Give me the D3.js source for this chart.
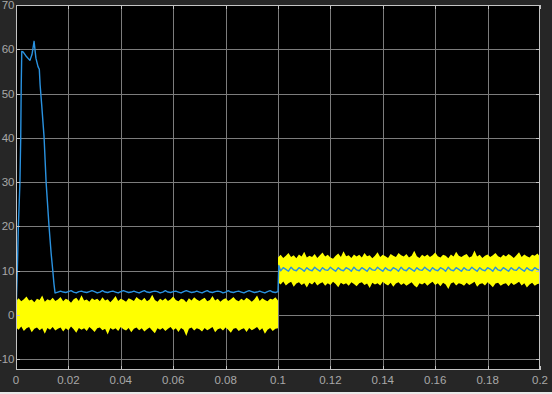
<!DOCTYPE html>
<html>
<head>
<meta charset="utf-8">
<script src="https://cdn.jsdelivr.net/npm/d3@7"></script>
<style>
  html, body { margin: 0; padding: 0; background: #262626; }
  svg { display: block; }
  .tick-label { font-family: "Liberation Sans", Arial, sans-serif; font-size: 11.5px; fill: #a8a8a8; }
</style>
</head>
<body>
<div id="chart"></div>
<script>
// Tick labels
const xTicks = [0, 0.02, 0.04, 0.06, 0.08, 0.1, 0.12, 0.14, 0.16, 0.18, 0.2];
const yTicks = [-10, 0, 10, 20, 30, 40, 50, 60, 70];

// Yellow signal: noisy band, envelope sampled every 1 ms
const noiseStep = 0.001;
const noiseUpper1 = [
  3.2, 3.8, 3.1, 3.6, 4.2, 3.3, 3.5, 2.9, 3.7, 3.4,
  4.4, 3.0, 3.6, 3.3, 3.9, 3.2, 3.5, 4.1, 3.1, 3.7,
  3.4, 2.8, 3.6, 3.9, 3.2, 4.5, 3.3, 3.5, 3.0, 3.8,
  3.4, 3.7, 3.1, 4.0, 3.3, 3.6, 2.9, 3.5, 4.3, 3.2,
  3.7, 3.4, 3.0, 3.8, 3.5, 3.2, 4.1, 3.6, 3.3, 3.9,
  3.1, 3.5, 4.6, 3.4, 3.0, 3.7, 3.3, 3.8, 3.2, 3.6,
  4.2, 3.4, 3.1, 3.7, 3.5, 2.9, 3.8, 3.3, 4.0, 3.5,
  3.2, 3.6, 3.9, 3.1, 3.4, 4.3, 3.3, 3.7, 3.0, 3.5,
  3.8, 3.2, 3.6, 4.1, 3.4, 3.1, 3.7, 3.3, 3.9, 3.5,
  3.0, 3.6, 4.4, 3.2, 3.8, 3.4, 3.1, 3.7, 3.5, 4.0, 3.3
];
const noiseLower1 = [
  -2.8, -3.3, -2.6, -3.6, -3.0, -2.7, -3.9, -3.1, -2.8, -3.4,
  -3.0, -4.2, -2.9, -3.3, -2.7, -3.5, -3.1, -2.8, -3.7, -3.0,
  -3.4, -2.6, -3.2, -4.0, -2.9, -3.3, -3.0, -3.6, -2.7, -3.2,
  -3.8, -3.0, -2.8, -3.4, -3.1, -4.4, -2.9, -3.3, -3.0, -3.6,
  -2.7, -3.2, -3.5, -2.9, -3.9, -3.1, -2.8, -3.4, -3.0, -3.7,
  -3.2, -2.8, -3.5, -4.1, -3.0, -3.3, -2.9, -3.6, -3.1, -2.7,
  -3.4, -3.0, -3.8, -2.9, -3.3, -4.7, -3.1, -2.8, -3.5, -3.0,
  -3.2, -3.7, -2.9, -3.4, -3.1, -2.7, -3.9, -3.2, -3.0, -3.5,
  -2.8, -3.3, -4.0, -3.1, -2.9, -3.6, -3.2, -3.0, -3.8, -2.9,
  -3.4, -3.1, -2.7, -3.5, -3.0, -4.2, -3.3, -2.9, -3.6, -3.1, -3.0
];
const noiseUpper2 = [
  13.0, 13.6, 12.9, 13.4, 14.0, 13.1, 13.5, 12.8, 13.7, 13.2,
  14.3, 13.0, 13.4, 13.1, 13.8, 12.9, 13.5, 14.1, 13.2, 13.6,
  13.0, 12.7, 13.4, 13.9, 13.1, 14.4, 13.3, 13.5, 12.9, 13.7,
  13.2, 13.6, 13.0, 14.0, 13.3, 13.5, 12.8, 13.4, 14.2, 13.1,
  13.6, 13.3, 12.9, 13.8, 13.4, 13.1, 14.0, 13.5, 13.2, 13.8,
  13.0, 13.4, 14.5, 13.3, 12.9, 13.6, 13.2, 13.7, 13.1, 13.5,
  14.1, 13.3, 13.0, 13.6, 13.4, 12.8, 13.7, 13.2, 14.3, 13.4,
  13.1, 13.5, 13.8, 13.0, 13.3, 14.6, 13.2, 13.6, 12.9, 13.4,
  13.7, 13.1, 13.5, 14.0, 13.3, 13.0, 13.6, 13.2, 13.8, 13.4,
  12.9, 13.5, 14.2, 13.1, 13.7, 13.3, 13.0, 13.6, 13.4, 13.9, 13.2
];
const noiseLower2 = [
  7.4, 6.9, 7.6, 6.7, 7.2, 7.5, 6.4, 7.1, 7.4, 6.8,
  7.2, 6.2, 7.3, 6.9, 7.5, 6.7, 7.1, 7.4, 6.6, 7.2,
  6.8, 7.5, 7.0, 6.3, 7.3, 6.9, 7.2, 6.6, 7.4, 7.0,
  6.5, 7.2, 7.4, 6.8, 7.1, 6.1, 7.3, 6.9, 7.2, 6.7,
  7.5, 7.0, 6.7, 7.3, 6.4, 7.1, 7.4, 6.8, 7.2, 6.6,
  7.0, 7.4, 6.7, 6.2, 7.2, 6.9, 7.3, 6.6, 7.1, 7.5,
  6.8, 7.2, 6.5, 7.3, 6.9, 5.9, 7.1, 7.4, 6.7, 7.2,
  7.0, 6.6, 7.3, 6.8, 7.1, 7.5, 6.4, 7.0, 7.2, 6.7,
  7.4, 6.9, 6.3, 7.1, 7.3, 6.6, 7.0, 7.2, 6.5, 7.3,
  6.8, 7.1, 7.5, 6.7, 7.2, 6.2, 6.9, 7.3, 6.6, 7.0, 7.1
];

// Blue signal: start-up transient
const startTime = [0, 0.0005, 0.0009, 0.0015, 0.0018, 0.002, 0.0022, 0.0027, 0.0038,
  0.0053, 0.0061, 0.0069, 0.0076, 0.0084, 0.0089, 0.0092, 0.0098, 0.0107, 0.0115,
  0.0126, 0.0134, 0.014, 0.0145, 0.0149];
const startValue = [0, 10, 20, 30, 40, 52, 59.5, 59.4, 58.5,
  57.5, 58.8, 61.8, 58, 56.1, 55.5, 52, 47.5, 40.3, 29.9,
  20.1, 14, 10.3, 7, 5.0];

// Blue signal: first plateau, 1 ms samples from 0.015 s
const plateau1Start = 0.015;
const plateau1 = [
  5.0, 5.2, 5.4, 5.2, 5.1, 5.3, 5.5, 5.2, 5.0, 5.3, 5.4, 5.2, 5.1, 5.3, 5.5, 5.3,
  5.0, 5.2, 5.5, 5.2, 5.1, 5.3, 5.4, 5.2, 5.0, 5.3, 5.5, 5.3, 5.1, 5.2, 5.4, 5.2,
  5.0, 5.3, 5.5, 5.2, 5.1, 5.3, 5.4, 5.3, 5.0, 5.2, 5.5, 5.2, 5.1, 5.3, 5.4, 5.2,
  5.0, 5.3, 5.5, 5.3, 5.1, 5.2, 5.4, 5.2, 5.0, 5.3, 5.5, 5.2, 5.1, 5.3, 5.4, 5.3,
  5.0, 5.2, 5.5, 5.2, 5.1, 5.3, 5.4, 5.2, 5.0, 5.3, 5.5, 5.3, 5.1, 5.2, 5.4, 5.2,
  5.0, 5.3, 5.5, 5.2, 5.1, 5.3
];

// Blue signal: step at 0.1 s
const stepTime = [0.1003];
const stepValue = [11.2];

// Blue signal: second plateau, 1 ms samples from 0.101 s
const plateau2Start = 0.101;
const plateau2 = [
  10.0, 10.7, 10.3, 9.9, 10.8, 10.2, 10.0, 10.7, 10.4, 9.9, 10.7, 10.2,
  10.0, 10.8, 10.3, 9.9, 10.7, 10.2, 10.1, 10.8, 10.3, 9.9, 10.7, 10.2,
  10.0, 10.7, 10.4, 9.9, 10.8, 10.2, 10.0, 10.7, 10.3, 9.9, 10.7, 10.2,
  10.1, 10.8, 10.3, 9.9, 10.7, 10.2, 10.0, 10.7, 10.4, 9.9, 10.8, 10.2,
  10.0, 10.7, 10.3, 9.9, 10.7, 10.2, 10.1, 10.8, 10.3, 9.9, 10.7, 10.2,
  10.0, 10.7, 10.4, 9.9, 10.8, 10.2, 10.0, 10.7, 10.3, 9.9, 10.7, 10.2,
  10.1, 10.8, 10.3, 9.9, 10.7, 10.2, 10.0, 10.7, 10.4, 9.9, 10.8, 10.2,
  10.0, 10.7, 10.3, 9.9, 10.7, 10.2, 10.1, 10.8, 10.3, 9.9, 10.7, 10.2,
  10.0, 10.7, 10.3, 10.1
];

const width = 552;
const height = 394;
const plot = { left: 16, right: 540, top: 5, bottom: 370 };

const x = d3.scaleLinear().domain([0, 0.2]).range([plot.left, plot.right]);
const y = d3.scaleLinear().domain([-12.4, 70]).range([plot.bottom, plot.top]);

const svg = d3
  .select("#chart")
  .append("svg")
  .attr("width", width)
  .attr("height", height);

svg.append("rect").attr("width", width).attr("height", height).attr("fill", "#262626");
// window border strip at the bottom
svg.append("rect").attr("x", 0).attr("y", 392).attr("width", width).attr("height", 2).attr("fill", "#e8e8e8");

svg
  .append("rect")
  .attr("x", plot.left)
  .attr("y", plot.top)
  .attr("width", plot.right - plot.left)
  .attr("height", plot.bottom - plot.top)
  .attr("fill", "#000");

svg
  .append("clipPath")
  .attr("id", "plotClip")
  .append("rect")
  .attr("x", plot.left)
  .attr("y", plot.top)
  .attr("width", plot.right - plot.left)
  .attr("height", plot.bottom - plot.top);

// Grid
const grid = svg.append("g").attr("class", "grid").attr("stroke", "#7c7c7c").attr("stroke-width", 1);
grid
  .selectAll(".vgrid")
  .data(xTicks.slice(1, -1))
  .enter()
  .append("line")
  .attr("x1", (d) => Math.round(x(d)) + 0.5)
  .attr("x2", (d) => Math.round(x(d)) + 0.5)
  .attr("y1", plot.top)
  .attr("y2", plot.bottom);
grid
  .selectAll(".hgrid")
  .data(yTicks.slice(0, -1))
  .enter()
  .append("line")
  .attr("y1", (d) => Math.round(y(d)) + 0.5)
  .attr("y2", (d) => Math.round(y(d)) + 0.5)
  .attr("x1", plot.left)
  .attr("x2", plot.right);

const traces = svg.append("g").attr("clip-path", "url(#plotClip)");

// Yellow band, drawn as filled envelope
function band(upper, lower, t0) {
  var pts = upper.map(function (u, i) {
    return { t: t0 + i * noiseStep, hi: u, lo: lower[i] };
  });
  return d3
    .area()
    .x((d) => x(d.t))
    .y0((d) => y(d.lo))
    .y1((d) => y(d.hi))(pts);
}

traces.append("path").attr("d", band(noiseUpper1, noiseLower1, 0)).attr("fill", "#ffff00");
traces.append("path").attr("d", band(noiseUpper2, noiseLower2, 0.1)).attr("fill", "#ffff00");

// Blue trace
var blue = startTime.map((t, i) => [t, startValue[i]]);
plateau1.forEach((v, i) => blue.push([plateau1Start + i * noiseStep, v]));
stepTime.forEach((t, i) => blue.push([t, stepValue[i]]));
plateau2.forEach((v, i) => blue.push([plateau2Start + i * noiseStep, v]));

traces
  .append("path")
  .datum(blue)
  .attr("fill", "none")
  .attr("stroke", "#2a92e0")
  .attr("stroke-width", 1.4)
  .attr("stroke-linejoin", "round")
  .attr(
    "d",
    d3
      .line()
      .x((d) => x(d[0]))
      .y((d) => y(d[1]))
  );

// Frame and inner ticks
const frame = svg.append("g").attr("stroke", "#c4c4c4").attr("fill", "none");
frame
  .append("rect")
  .attr("x", plot.left + 0.5)
  .attr("y", plot.top + 0.5)
  .attr("width", plot.right - plot.left - 1)
  .attr("height", plot.bottom - plot.top - 1);

xTicks.forEach(function (d) {
  var px = Math.round(x(d)) + 0.5;
  frame.append("line").attr("x1", px).attr("x2", px).attr("y1", plot.bottom).attr("y2", plot.bottom - 4);
  frame.append("line").attr("x1", px).attr("x2", px).attr("y1", plot.top).attr("y2", plot.top + 4);
});
yTicks.forEach(function (d) {
  var py = Math.round(y(d)) + 0.5;
  frame.append("line").attr("y1", py).attr("y2", py).attr("x1", plot.left).attr("x2", plot.left + 4);
  frame.append("line").attr("y1", py).attr("y2", py).attr("x1", plot.right).attr("x2", plot.right - 4);
});

// Tick labels
svg
  .selectAll(".xlabel")
  .data(xTicks)
  .enter()
  .append("text")
  .attr("class", "tick-label")
  .attr("x", (d) => x(d))
  .attr("y", 384)
  .attr("text-anchor", "middle")
  .text((d) => d3.format("~g")(d));

svg
  .selectAll(".ylabel")
  .data(yTicks)
  .enter()
  .append("text")
  .attr("class", "tick-label")
  .attr("x", plot.left - 1.5)
  .attr("y", (d) => y(d) + 4)
  .attr("text-anchor", "end")
  .text((d) => d);
</script>
</body>
</html>
